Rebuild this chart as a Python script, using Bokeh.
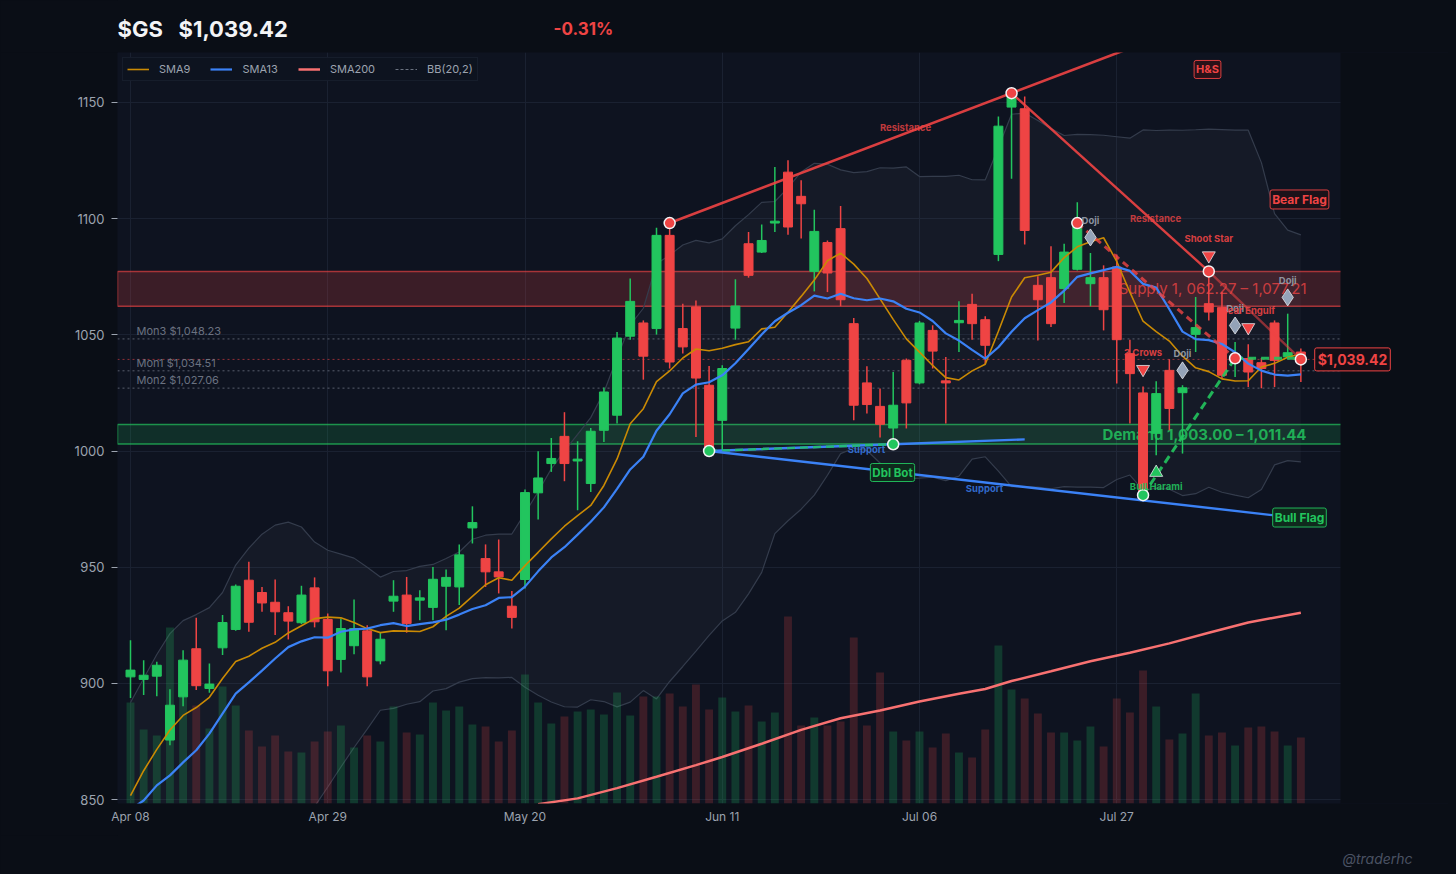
import numpy as np
import pandas as pd
from bokeh.plotting import figure
from bokeh.layouts import column
from bokeh.models import (Range1d, FixedTicker, Label, Span, BoxAnnotation,
                          ColumnDataSource, Legend, LegendItem)
from bokeh.core.properties import value
from bokeh.embed import file_html
from bokeh.resources import INLINE

# ---------------- data ----------------
symbol = "$GS"
last_price = 1039.42
change_pct = -0.31
watermark = "@traderhc"

tick_idx = [0, 15, 30, 45, 60, 75]
tick_labels = ["Apr 08", "Apr 29", "May 20", "Jun 11", "Jul 06", "Jul 27"]
price_ticks = [850, 900, 950, 1000, 1050, 1100, 1150]

opens = [902.8, 901.7, 903.1, 875.6, 894.2, 914.9, 897.8, 915.3, 923.2, 944.4,
         939.1, 934.9, 930.4, 926.1, 941.1, 927.5, 910.3, 916.2, 922.6, 909.7,
         935.4, 938.0, 935.8, 932.7, 941.8, 941.5, 966.9, 953.7, 948.0, 933.2,
         944.7, 982.0, 994.6, 1006.3, 995.7, 986.0, 1008.9, 1015.4, 1049.4, 1055.1,
         1052.7, 1092.8, 1052.7, 1062.0, 1028.3, 1013.2, 1052.9, 1089.2, 1085.6, 1098.1,
         1120.0, 1109.6, 1077.3, 1089.7, 1095.7, 1054.8, 1029.3, 1019.2, 1009.9, 1039.0,
         1029.3, 1051.9, 1030.2, 1055.2, 1063.1, 1056.5, 1084.6, 1148.0, 1147.3, 1071.3,
         1074.6, 1069.9, 1078.2, 1072.0, 1074.6, 1079.2, 1041.9, 1025.0, 1007.6, 1034.7,
         1025.1, 1050.2, 1063.4, 1061.7, 1038.5, 1039.8, 1038.0, 1055.1, 1040.5, 1042.6]
highs = [918.6, 910.0, 909.3, 897.5, 914.3, 928.2, 908.6, 929.4, 942.6, 952.3,
         941.5, 944.7, 933.2, 942.0, 945.6, 930.1, 927.9, 936.1, 925.0, 921.9,
         944.4, 945.8, 940.1, 950.1, 949.0, 959.8, 976.2, 959.8, 961.9, 939.8,
         983.4, 999.9, 1005.6, 1016.7, 1004.2, 1009.9, 1027.3, 1051.2, 1074.2, 1056.2,
         1096.1, 1098.1, 1063.4, 1064.8, 1036.6, 1036.9, 1073.9, 1094.2, 1097.5, 1122.2,
         1125.1, 1116.5, 1103.8, 1090.6, 1105.4, 1057.2, 1036.5, 1026.9, 1034.0, 1039.8,
         1056.0, 1054.1, 1040.5, 1064.4, 1067.7, 1058.0, 1144.0, 1154.0, 1152.6, 1075.2,
         1088.1, 1089.2, 1107.1, 1085.2, 1079.9, 1084.6, 1047.9, 1027.8, 1030.0, 1039.5,
         1028.3, 1066.3, 1075.2, 1068.4, 1046.9, 1045.9, 1040.0, 1056.2, 1059.1, 1044.1]
lows = [893.7, 895.0, 894.5, 873.4, 890.2, 897.1, 896.0, 912.2, 922.6, 922.2,
        930.8, 920.8, 918.9, 925.5, 924.1, 898.8, 904.7, 912.5, 898.8, 908.2,
        930.8, 921.8, 927.2, 927.2, 922.9, 933.7, 960.2, 941.5, 938.7, 923.6,
        940.8, 970.5, 991.0, 987.0, 974.5, 982.4, 1003.9, 1011.8, 1047.9, 1030.7,
        1050.1, 1035.5, 1042.0, 1006.0, 1000.0, 1000.3, 1047.9, 1074.6, 1085.2, 1094.2,
        1093.1, 1091.4, 1068.7, 1068.4, 1062.3, 1013.2, 1016.1, 1005.8, 1002.9, 1009.7,
        1028.7, 1035.5, 1011.8, 1042.6, 1047.9, 1037.3, 1081.7, 1117.2, 1088.9, 1047.6,
        1053.4, 1063.7, 1077.7, 1062.3, 1051.9, 1029.0, 1011.8, 981.0, 998.2, 1008.9,
        998.9, 1042.6, 1056.2, 1031.2, 1031.9, 1027.5, 1027.0, 1027.5, 1039.8, 1029.7]
closes = [905.7, 903.5, 907.8, 890.6, 910.0, 899.0, 899.7, 926.2, 941.8, 926.3,
          934.6, 930.8, 926.8, 938.0, 926.5, 905.4, 923.6, 923.6, 902.8, 919.0,
          937.5, 925.8, 936.8, 944.8, 945.6, 955.3, 969.2, 948.0, 945.8, 928.4,
          982.1, 988.4, 996.8, 994.6, 996.5, 1008.5, 1025.4, 1048.6, 1064.4, 1040.8,
          1092.8, 1038.3, 1044.8, 1031.4, 1001.7, 1035.5, 1062.4, 1075.6, 1090.6, 1098.9,
          1096.4, 1106.4, 1094.5, 1076.6, 1065.1, 1019.7, 1020.0, 1011.5, 1019.7, 1020.7,
          1055.1, 1043.0, 1029.3, 1056.2, 1054.8, 1045.5, 1139.8, 1152.3, 1094.9, 1065.1,
          1054.8, 1085.6, 1098.1, 1074.6, 1060.8, 1047.9, 1033.3, 982.4, 1024.7, 1018.3,
          1027.2, 1053.1, 1059.8, 1032.6, 1040.0, 1034.0, 1035.5, 1039.0, 1042.3, 1039.42]
volumes_m = [2.02, 1.48, 1.36, 3.52, 2.40, 1.96, 1.50, 2.34, 1.96, 1.46,
             1.14, 1.36, 1.04, 1.02, 1.24, 1.44, 1.56, 1.12, 1.36, 1.24,
             1.94, 1.42, 1.38, 2.02, 1.86, 1.94, 1.58, 1.54, 1.24, 1.46,
             2.58, 2.02, 1.60, 1.74, 1.84, 1.88, 1.78, 2.22, 1.76, 2.14,
             2.14, 2.20, 1.94, 2.38, 1.88, 2.12, 1.84, 1.96, 1.64, 1.82,
             3.74, 1.56, 1.72, 1.56, 1.64, 3.32, 1.56, 2.62, 1.44, 1.26,
             1.44, 1.12, 1.40, 1.02, 0.92, 1.48, 3.16, 2.28, 2.10, 1.80,
             1.42, 1.42, 1.26, 1.54, 1.14, 2.10, 1.82, 2.66, 1.94, 1.28,
             1.40, 2.20, 1.36, 1.42, 1.16, 1.52, 1.54, 1.44, 1.16, 1.32]

# indicator values before enough bars were visible
sma9_early = [851.7, 862.4, 871.6, 879.9, 886.2, 889.6, 894.0, 902.1]
sma13_early = [845.7, 849.6, 856.1, 860.4, 866.0, 871.2, 878.4, 887.0, 895.6,
               900.4, 905.5, 910.7]
bb_upper_early = [891.8, 902.1, 912.4, 921.4, 927.0, 929.6, 932.6, 939.1, 950.9, 958.2,
                  964.2, 968.1, 969.4, 967.3, 960.8, 957.3, 955.6, 953.9, 950.0]
bb_lower_early = [830.0, 830.0, 830.0, 830.0, 830.0, 830.0, 830.0, 830.0, 830.0, 832.0,
                  835.0, 838.0, 841.0, 844.0, 847.0, 855.4, 864.0, 872.4, 880.3]
sma200_idx = [31, 34, 37, 40, 43, 45, 48, 51, 54, 57, 60, 63, 65, 67, 70, 73, 76, 79, 82, 85, 89]
sma200_val = [848.0, 850.5, 854.9, 859.8, 864.8, 868.3, 874.0, 880.0, 885.0, 888.3, 892.2,
              895.5, 897.6, 901.0, 905.2, 909.5, 913.2, 917.2, 921.8, 926.2, 930.4]

supply_zone = [1062.27, 1077.21]
demand_zone = [1003.00, 1011.44]
month_names = ["Mon3", "Mon1", "Mon2"]
month_levels = [1048.23, 1034.51, 1027.06]

# trendlines / pivots (bar index, price)
res_up_idx = [41, 67]
res_up_px = [1098.1, 1154.0]
res_dn_idx = [67, 82]
res_dn_px = [1154.0, 1077.3]
bear_flag_idx = [82, 89]
bear_flag_px = [1077.3, 1039.42]
res_dash_idx = [72, 84]
res_dash_px = [1098.1, 1039.9]
sup_idx = [44, 58, 68]
sup_px = [1000.0, 1002.9, 1005.0]
dblbot_idx = [44, 58]
dblbot_px = [1000.0, 1002.9]
sup_dn_idx = [44, 89]
sup_dn_px = [1000.0, 971.0]
bull_idx = [77, 84, 89]
bull_px = [981.0, 1039.9, 1039.9]
red_pivot_idx = [41, 67, 72, 82, 84, 89]
red_pivot_px = [1098.1, 1154.0, 1098.1, 1077.3, 1039.9, 1039.42]
green_pivot_idx = [44, 58, 77]
green_pivot_px = [1000.0, 1002.9, 981.0]

pat_text = ["Doji", "Doji", "Doji", "Doji", "Shoot Star", "Bear Engulf", "3 Crows", "Bull Harami"]
pat_idx = [73, 84, 80, 88, 82, 85, 77, 78]
pat_px = [1091.9, 1054.0, 1034.7, 1066.1, 1084.1, 1053.2, 1035.2, 990.7]
pat_kind = ["doji", "doji", "doji", "doji", "bear", "bear", "bear", "bull"]

# ---------------- styling ----------------
PAGE_BG = "#0a0e16"
PLOT_BG = "#0e1320"
GREEN = "#22c55e"
RED = "#ef4444"
BLUE = "#3b82f6"
ORANGE = "#ca8a04"
SALMON = "#f87171"
GREY = "#9ca3af"
FONT = "Inter"
W = 1448
LEFT = 117
HEADER_H = 52
MAIN_H = 783
FOOTER_H = 38


# pixel -> data helpers for annotation placement (page pixels)
def xd(px):
    return (px - 130) / 13.15


def yd(py):
    return 1150 - (py - 102) / 2.3233


def blank_fig(h):
    # frame spans page x LEFT..W so that it lines up with the main chart frame
    f = figure(width=W, height=h, x_range=Range1d(LEFT, W), y_range=Range1d(h, 0),
               output_backend="svg", toolbar_location=None, x_axis_type=None, y_axis_type=None,
               min_border_left=LEFT, min_border_right=0, min_border_top=0, min_border_bottom=0,
               background_fill_color=PAGE_BG, border_fill_color=PAGE_BG,
               outline_line_color=None)
    return f


# ---------------- header ----------------
hdr = blank_fig(HEADER_H)
hdr.text(x=[117, 178], y=[28, 28], text=[symbol, f"${last_price:,.2f}"], text_font=value(FONT),
         text_font_size="22px", text_font_style="bold", text_color="#f3f4f6",
         text_baseline="middle", text_align="left")
hdr.text(x=[553], y=[28], text=[f"{change_pct:.2f}%"], text_font=value(FONT),
         text_font_size="17px", text_font_style="bold", text_color=RED,
         text_baseline="middle", text_align="left")

# ---------------- main chart ----------------
n = len(closes)
idx = np.arange(n)
o = np.array(opens); c = np.array(closes); h = np.array(highs); l = np.array(lows)
up = c >= o
cs = pd.Series(c)
sma9 = cs.rolling(9).mean().to_numpy(); sma9[:8] = sma9_early
sma13 = cs.rolling(13).mean().to_numpy(); sma13[:12] = sma13_early
m20 = cs.rolling(20).mean().to_numpy(); s20 = cs.rolling(20).std(ddof=0).to_numpy()
bbu = m20 + 2 * s20; bbu[:19] = bb_upper_early
bbl = m20 - 2 * s20; bbl[:19] = bb_lower_early

p = figure(width=W, height=MAIN_H, x_range=Range1d(xd(LEFT), xd(W)), y_range=Range1d(848.3, 1171.5),
           output_backend="svg", toolbar_location=None,
           min_border_left=LEFT, min_border_right=0, min_border_top=0, min_border_bottom=32,
           background_fill_color=PLOT_BG, border_fill_color=PAGE_BG, outline_line_color=None)
p.extra_y_ranges = {"vol": Range1d(0, 15.02)}

p.xaxis.ticker = FixedTicker(ticks=tick_idx)
p.xaxis.major_label_overrides = {t: s for t, s in zip(tick_idx, tick_labels)}
p.yaxis.ticker = FixedTicker(ticks=price_ticks)
for ax in p.axis:
    ax.axis_line_color = None
    ax.minor_tick_line_color = None
    ax.major_label_text_color = GREY
    ax.major_label_text_font = FONT
p.xaxis.major_tick_line_color = None
p.xaxis.major_tick_out = 0
p.xaxis.major_label_standoff = 5
p.xaxis.major_label_text_font_size = "12px"
p.yaxis.major_tick_line_color = GREY
p.yaxis.major_tick_out = 6
p.yaxis.major_tick_in = 0
p.yaxis.major_label_standoff = 7
p.yaxis.major_label_text_font_size = "13px"
p.xgrid.grid_line_color = "#1a2131"
p.ygrid.grid_line_color = "#1a2131"

# zones and levels
p.add_layout(BoxAnnotation(bottom=supply_zone[0], top=supply_zone[1], fill_color=RED, fill_alpha=0.2,
                           line_color=RED, line_alpha=0.65, line_width=1.5, level="underlay"))
p.add_layout(BoxAnnotation(bottom=demand_zone[0], top=demand_zone[1], fill_color=GREEN, fill_alpha=0.16,
                           line_color=GREEN, line_alpha=0.7, line_width=1.5, level="underlay"))
for lv in month_levels:
    p.add_layout(Span(location=lv, dimension="width", line_color="#6b7280", line_alpha=0.8,
                      line_dash="2 3", line_width=1, level="underlay"))
p.add_layout(Span(location=last_price, dimension="width", line_color=RED, line_alpha=0.6,
                  line_dash="2 3", line_width=1, level="underlay"))
p.text(x=[xd(136)] * 3, y=month_levels, text=[f"{nm} ${lv:,.2f}" for nm, lv in zip(month_names, month_levels)],
       text_font=value(FONT), text_font_size="11px", text_color="#6b7280",
       text_baseline="bottom", text_align="left", y_offset=-1)

# Bollinger
p.varea(x=idx, y1=bbl, y2=bbu, fill_color="#94a3b8", fill_alpha=0.05)
p.line(idx, bbu, line_color="#343c4c", line_width=1.2)
p.line(idx, bbl, line_color="#343c4c", line_width=1.2)

# zone labels (under the candles)
p.text(x=[xd(1306)], y=[sum(supply_zone) / 2],
       text=["Supply 1, 062.27 \u2013 1,077.21"], text_font=value(FONT), text_font_size="15px",
       text_color=RED, text_alpha=0.8, text_align="right", text_baseline="middle")
p.text(x=[xd(1306)], y=[sum(demand_zone) / 2],
       text=[f"Demand {demand_zone[0]:,.2f} \u2013 {demand_zone[1]:,.2f}"], text_font=value(FONT),
       text_font_size="15px", text_font_style="bold",
       text_color=GREEN, text_alpha=0.85, text_align="right", text_baseline="middle")

src = ColumnDataSource(dict(
    x=idx, h=h, l=l, top=np.maximum(o, c), bottom=np.minimum(o, c),
    color=[GREEN if u else RED for u in up], vol=volumes_m,
    valpha=[0.22 if u else 0.2 for u in up]))

# volume
p.vbar(x="x", width=0.6, top="vol", bottom=0, y_range_name="vol", source=src,
       fill_color="color", fill_alpha="valpha", line_color=None)
# SMA200
r200 = p.line(sma200_idx, sma200_val, line_color=SALMON, line_width=2.5)

# candles
p.segment(x0="x", y0="h", x1="x", y1="l", source=src, line_color="color", line_width=1.5)
p.vbar(x="x", width=0.68, top="top", bottom="bottom", source=src,
       fill_color="color", line_color="color", line_width=1)

r9 = p.line(idx, sma9, line_color=ORANGE, line_width=1.6)
r13 = p.line(idx, sma13, line_color=BLUE, line_width=2.2)
rbb = p.line(x=[0.0], y=[float("nan")], line_color="#6b7280", line_width=1, line_dash="3 2")

# trend lines
slope = (res_up_px[1] - res_up_px[0]) / (res_up_idx[1] - res_up_idx[0])
ext_idx = [res_up_idx[0], 82]
ext_px = [res_up_px[0], res_up_px[0] + slope * (82 - res_up_idx[0])]
p.line(ext_idx, ext_px, line_color=RED, line_width=2.6, line_alpha=0.9)
p.line(res_dn_idx, res_dn_px, line_color=RED, line_width=2.4, line_alpha=0.9)
p.line(bear_flag_idx, bear_flag_px, line_color=RED, line_width=2.4, line_alpha=0.55)
p.line(res_dash_idx, res_dash_px, line_color=RED, line_width=3, line_alpha=0.8, line_dash="7 5")
p.line(sup_idx, sup_px, line_color=BLUE, line_width=2.4)
p.line(dblbot_idx, dblbot_px, line_color=GREEN, line_width=2.4, line_dash="8 5", line_alpha=0.8)
p.line(sup_dn_idx, sup_dn_px, line_color=BLUE, line_width=2.4)
p.line(bull_idx[:2], bull_px[:2], line_color=GREEN, line_width=3, line_dash="8 5", line_alpha=0.9)
p.line(bull_idx[1:], bull_px[1:], line_color=GREEN, line_width=3, line_dash="8 5", line_alpha=0.9)

# pivots
p.scatter(red_pivot_idx, red_pivot_px, size=11, fill_color=RED, line_color="#f3f4f6", line_width=1.5)
p.scatter(green_pivot_idx, green_pivot_px, size=11, fill_color=GREEN, line_color="#f3f4f6", line_width=1.5)

# candle patterns
marker_map = {"doji": "diamond", "bear": "inverted_triangle", "bull": "triangle"}
fill_map = {"doji": "#94a3b8", "bear": RED, "bull": GREEN}
txt_map = {"doji": GREY, "bear": RED, "bull": GREEN}
psrc = ColumnDataSource(dict(
    x=pat_idx, y=pat_px, text=pat_text,
    marker=[marker_map[k] for k in pat_kind],
    fill=[fill_map[k] for k in pat_kind],
    tcol=[txt_map[k] for k in pat_kind],
    size=[17 if k == "doji" else 13 for k in pat_kind],
    yoff=[14 if k == "bull" else -17 for k in pat_kind]))
p.scatter(x="x", y="y", marker="marker", size="size", fill_color="fill", line_color="#e5e7eb",
          line_width=1, line_alpha=0.8, source=psrc)
p.text(x="x", y="y", text="text", y_offset="yoff", text_color="tcol", text_font=value(FONT),
       text_font_size="9.5px", text_font_style="bold", text_align="center", text_baseline="middle",
       text_alpha=0.9, source=psrc)

# line labels
for tx, px_, py_, col in [("Resistance", 905, 127, RED), ("Resistance", 1155, 218, RED),
                          ("Support", 866, 449, BLUE), ("Support", 984, 488, BLUE)]:
    p.add_layout(Label(x=xd(px_), y=yd(py_), text=tx, text_color=col, text_alpha=0.8,
                       text_font=FONT, text_font_size="9.5px", text_font_style="bold",
                       text_align="center", text_baseline="middle"))

# area right of the plotting frame
p.add_layout(BoxAnnotation(left=xd(1340), fill_color=PAGE_BG, fill_alpha=1.0, line_color=None))


# boxed pattern labels
def boxed(tx, px_, py_, col, bg, size="11px"):
    p.add_layout(Label(x=xd(px_), y=yd(py_), text=tx, text_color=col, text_font=FONT,
                       text_font_size=size, text_font_style="bold", text_align="center",
                       text_baseline="middle", background_fill_color=bg, background_fill_alpha=1.0,
                       border_line_color=col, border_line_width=1, border_line_alpha=0.9,
                       padding=2, border_radius=2))


boxed("H&S", 1207, 69, RED, "#2a1118", "11px")
boxed("Bear Flag", 1299, 199, RED, "#1b1219", "12px")
boxed("Bull Flag", 1299, 517, GREEN, "#0f2a1d", "12px")
boxed("Dbl Bot", 892, 472, GREEN, "#0f2a1d", "11.5px")

# price tag on the right
p.add_layout(Label(x=xd(1352), y=last_price, text=f"${last_price:,.2f}", text_color=RED,
                   text_font=FONT, text_font_size="14px", text_font_style="bold",
                   text_align="center", text_baseline="middle",
                   background_fill_color="#150e16", background_fill_alpha=1.0,
                   border_line_color=RED, border_line_width=1, padding=3, border_radius=2))

legend = Legend(items=[LegendItem(label="SMA9", renderers=[r9]),
                       LegendItem(label="SMA13", renderers=[r13]),
                       LegendItem(label="SMA200", renderers=[r200]),
                       LegendItem(label="BB(20,2)", renderers=[rbb])],
                orientation="horizontal", location="top_left",
                background_fill_color="#0e1320", background_fill_alpha=0.95,
                border_line_color="#1f2737", border_line_width=1,
                label_text_color=GREY, label_text_font=FONT, label_text_font_size="11px",
                glyph_width=22, glyph_height=12, label_standoff=10, spacing=20,
                padding=4, margin=5, label_height=12)
p.add_layout(legend)

# ---------------- footer ----------------
ftr = blank_fig(FOOTER_H)
ftr.text(x=[1377], y=[858 - HEADER_H - MAIN_H], text=[watermark], text_font=value(FONT),
         text_font_size="14px", text_font_style="italic", text_color="#4a5263",
         text_align="center", text_baseline="middle")

layout = column(hdr, p, ftr, spacing=0)
html = file_html(layout, INLINE, title="GS")
page_css = ("<style>html, body { background: %s !important; } "
            ".bk-Canvas, .bk-Figure, .bk-Column { background: %s; }</style>" % (PAGE_BG, PAGE_BG))
html = html.replace("</head>", page_css + "</head>", 1)
open("out.html", "w").write(html)
